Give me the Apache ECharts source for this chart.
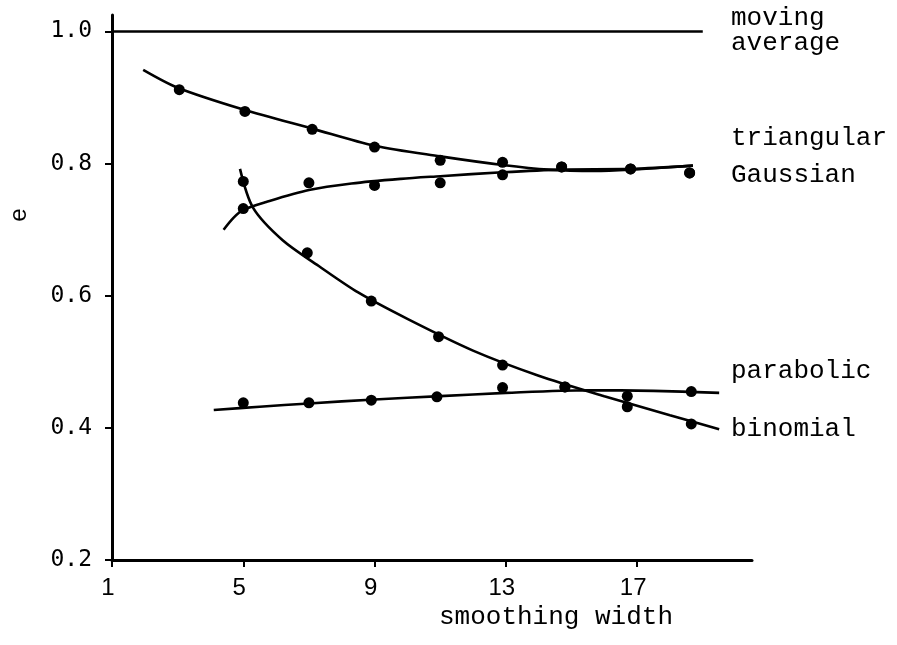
<!DOCTYPE html>
<html>
<head>
<meta charset="utf-8">
<script src="https://cdn.jsdelivr.net/npm/echarts@6/dist/echarts.min.js"></script>
<style>html,body{margin:0;padding:0;background:#fff}#c{width:897px;height:645px}</style>
</head>
<body>
<div id="c"></div>
<script>
// ---- data ----
var xTicks = [1, 5, 9, 13, 17];
var yTicks = [0.2, 0.4, 0.6, 0.8, 1.0];

var movingAverageLine = [[1, 1.0], [19.0, 1.0]];

var triangularCurve = [[1.95,0.942],[3.0,0.915],[5.0,0.882],[7.1,0.853],[9.0,0.827],[11.0,0.811],[12.9,0.798],[14.3,0.791],[15.7,0.789],[16.8,0.791],[18.7,0.797]];
var triangularPoints = [[3.05,0.912],[5.05,0.879],[7.1,0.852],[9.0,0.825],[11.0,0.805],[12.9,0.802],[14.7,0.795],[16.8,0.792],[18.6,0.786]];

var gaussianCurve = [[4.4,0.700],[4.7,0.718],[5.0,0.730],[5.7,0.742],[7.0,0.760],[8.3,0.770],[9.8,0.777],[11.0,0.781],[12.9,0.787],[14.7,0.791],[16.8,0.792],[18.7,0.797]];
var gaussianPoints = [[5.0,0.732],[7.0,0.771],[9.0,0.767],[11.0,0.771],[12.9,0.783],[14.7,0.795],[16.8,0.792],[18.6,0.786]];

var binomialCurve = [[4.9,0.792],[5.3,0.733],[6.2,0.684],[7.3,0.645],[8.5,0.605],[10.0,0.565],[12.0,0.517],[14.0,0.479],[16.0,0.448],[18.0,0.419],[19.5,0.398]];
var binomialPoints = [[5.0,0.773],[6.95,0.665],[8.9,0.592],[10.95,0.538],[12.9,0.495],[14.8,0.462],[16.7,0.432],[18.65,0.406]];

var parabolicCurve = [[4.1,0.427],[5.5,0.432],[7.0,0.437],[9.0,0.443],[11.0,0.448],[13.0,0.453],[15.5,0.457],[17.5,0.456],[19.5,0.453]];
var parabolicPoints = [[5.0,0.438],[7.0,0.438],[8.9,0.442],[10.9,0.447],[12.9,0.461],[14.8,0.462],[16.7,0.448],[18.65,0.455]];

var seriesLabels = ["moving\naverage", "triangular", "Gaussian", "parabolic", "binomial"];
var xTitle = "smoothing width";
var yTitle = "e";

// ---- chart ----
var chart = echarts.init(document.getElementById('c'), null, {renderer: 'canvas'});
var black = '#000';
function curve(name, data) {
  return {name: name, type: 'line', data: data, smooth: 0.3, showSymbol: false, silent: true,
    lineStyle: {color: black, width: 2.6}, z: 2};
}
function dots(name, data) {
  return {name: name, type: 'scatter', data: data, symbol: 'circle', symbolSize: 11,
    itemStyle: {color: black, opacity: 1}, z: 3};
}
var monoR = "'Liberation Mono', 'DejaVu Sans Mono', monospace";
var labelFont = '26px ' + monoR;
chart.setOption({
  animation: false,
  backgroundColor: '#fff',
  grid: {left: 112, top: 15, right: 145, bottom: 85, containLabel: false},
  xAxis: {
    type: 'value', min: 1, max: 20.5, interval: 4,
    axisLine: {onZero: false, lineStyle: {color: black, width: 3}},
    axisTick: {length: 7, lineStyle: {color: black, width: 2}},
    axisLabel: {margin: 16, color: black, fontSize: 24, fontFamily: "'Liberation Sans', Arial, sans-serif",
      showMaxLabel: false, padding: [0, 8, 0, 0],
      formatter: function (v) { return xTicks.indexOf(v) >= 0 ? String(v) : ''; }},
    splitLine: {show: false}
  },
  yAxis: {
    type: 'value', min: 0.2, max: 1.025, interval: 0.2,
    axisLine: {onZero: false, lineStyle: {color: black, width: 3}},
    axisTick: {length: 7, lineStyle: {color: black, width: 2}},
    axisLabel: {margin: 20, color: black, fontSize: 23, fontFamily: "'DejaVu Sans Mono', monospace",
      showMaxLabel: false,
      formatter: function (v) {
        for (var i = 0; i < yTicks.length; i++) if (Math.abs(yTicks[i] - v) < 1e-6) return yTicks[i].toFixed(1);
        return '';
      }},
    splitLine: {show: false}
  },
  series: [
    {name: 'moving average', type: 'line', data: movingAverageLine, showSymbol: false, silent: true,
      lineStyle: {color: black, width: 2.6}},
    curve('triangular', triangularCurve), dots('triangular points', triangularPoints),
    curve('Gaussian', gaussianCurve), dots('Gaussian points', gaussianPoints),
    curve('binomial', binomialCurve), dots('binomial points', binomialPoints),
    curve('parabolic', parabolicCurve), dots('parabolic points', parabolicPoints)
  ],
  graphic: [
    {type: 'text', left: 731, top: 5, style: {text: seriesLabels[0], font: labelFont, fill: black, lineHeight: 25}},
    {type: 'text', left: 731, top: 125, style: {text: seriesLabels[1], font: labelFont, fill: black}},
    {type: 'text', left: 731, top: 162, style: {text: seriesLabels[2], font: labelFont, fill: black}},
    {type: 'text', left: 731, top: 358, style: {text: seriesLabels[3], font: labelFont, fill: black}},
    {type: 'text', left: 731, top: 416, style: {text: seriesLabels[4], font: labelFont, fill: black}},
    {type: 'text', x: 556, y: 617, style: {text: xTitle, font: labelFont, fill: black, align: 'center', verticalAlign: 'middle'}},
    {type: 'text', x: 20, y: 215, rotation: Math.PI / 2, style: {text: yTitle, font: '24px ' + monoR, fill: black, align: 'center', verticalAlign: 'middle'}}
  ]
});
</script>
</body>
</html>
